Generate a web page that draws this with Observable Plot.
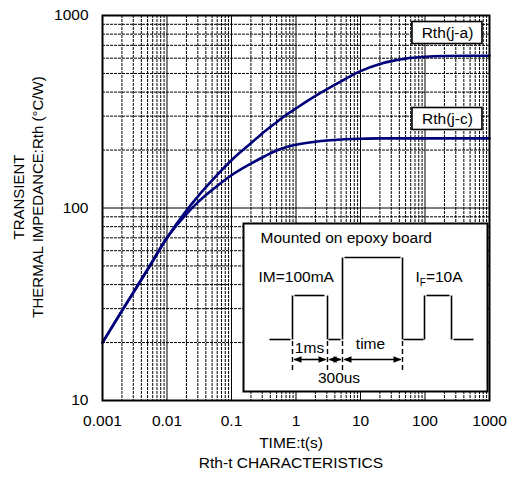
<!DOCTYPE html>
<html>
<head>
<meta charset="utf-8">
<script src="https://cdn.jsdelivr.net/npm/d3@7"></script>
<script src="https://cdn.jsdelivr.net/npm/@observablehq/plot@0.6"></script>
<style>
  html, body { margin: 0; padding: 0; background: #fff; }
  #wrap { position: relative; width: 509px; height: 477px; }
  #inset { position: absolute; left: 242px; top: 222px; }
</style>
</head>
<body>
<div id="wrap"><div id="main"></div><div id="inset"></div></div>
<script>
// ---- data ----
const xTicks = [0.001, 0.01, 0.1, 1, 10, 100, 1000];
const yTicks = [10, 100, 1000];
const time  = [0.001, 0.002, 0.005, 0.01, 0.02, 0.03, 0.05, 0.1, 0.2, 0.3, 0.5, 0.7, 1, 2, 5, 10, 20, 50, 100, 200, 500, 1000];
const rthJA = [20, 29.2, 47.9, 70, 97, 114.6, 139, 177, 217, 244, 279, 304, 329, 382, 455, 514, 560, 597, 610, 616, 618, 618];
const rthJC = [20, 29.2, 47.9, 70, 93, 107, 124, 148, 170, 183, 199, 207, 213, 221, 227, 229, 230, 230, 230, 230, 230, 230];
const seriesNames = ["Rth(j-a)", "Rth(j-c)"];
const labelT = [223, 223];
const labelR = [811, 290];

// inset schematic (units of the inset box)
const waveSeg = [[27,117,48,117],[50,73,50,117],[52,73,82,73],[85,73,85,117],[86,117,98,117],
  [100,35,100,117],[102,35,158,35],[160,35,160,117],[161,117,181,117],
  [182,73,182,117],[184,73,207,73],[209,73,209,117],[211,117,231,117]];
const dashX = [50, 85, 100, 160];
const arrowSeg = [[52,83],[87,98],[102,158]];
const headX = [51, 84, 86, 99, 101, 159];
const headDir = [180, 0, 180, 0, 180, 0];
const insetTexts = ["Mounted on epoxy board", "IM=100mA", "IF=10A", "1ms", "time", "300us"];
const insetTX = [18, 16, 173, 67, 128, 96.5];
const insetTY = [15.5, 55, 55, 126, 122, 156];
const insetAnchor = ["start", "start", "start", "middle", "middle", "middle"];

// ---- derived ----
const xMinor = [];
for (const d of xTicks.slice(0, -1)) for (let k = 2; k <= 9; k++) xMinor.push(+(d * k).toPrecision(3));
const yMinor = [];
for (const d of yTicks.slice(0, -1)) for (let k = 2; k <= 9; k++) yMinor.push(d * k);
const curves = time.flatMap((t, i) => [
  {t, r: rthJA[i], s: seriesNames[0]},
  {t, r: rthJC[i], s: seriesNames[1]}
]);
const labels = seriesNames.map((name, i) => ({name, t: labelT[i], r: labelR[i]}));

const font = "'Liberation Sans', Arial, Helvetica, sans-serif";
const navy = "#00007a";

const main = Plot.plot({
  width: 509, height: 477,
  marginLeft: 102, marginRight: 20, marginTop: 15, marginBottom: 77,
  style: {fontFamily: font, fontSize: "15.5px", background: "white", color: "black"},
  x: {type: "log", domain: [0.001, 1000], ticks: xTicks, tickSize: 0, tickPadding: 14, tickFormat: d => String(d), label: null},
  y: {type: "log", domain: [10, 1000], ticks: yTicks, tickSize: 0, tickPadding: 14, tickFormat: d => String(d), label: null},
  marks: [
    Plot.ruleX(xMinor, {stroke: "#000", strokeWidth: 1, strokeDasharray: "3,1"}),
    Plot.ruleY(yMinor, {stroke: "#000", strokeWidth: 1, strokeDasharray: "3,1"}),
    Plot.ruleX(xTicks, {stroke: "black", strokeWidth: 1}),
    Plot.ruleY(yTicks, {stroke: "black", strokeWidth: 1}),
    Plot.line(curves, {x: "t", y: "r", z: "s", curve: "monotone-x", stroke: navy, strokeWidth: 2.6}),
    Plot.frame({stroke: "black", strokeWidth: 2}),
    Plot.rect(labels, {x1: "t", x2: "t", y1: "r", y2: "r", insetLeft: -35, insetRight: -35, insetTop: -11, insetBottom: -11, fill: "white", stroke: "black", strokeWidth: 1.6}),
    Plot.text(labels, {x: "t", y: "r", text: "name", fontSize: 15.5, fill: "black"}),
    Plot.text(["TRANSIENT"], {text: d => d, frameAnchor: "left", textAnchor: "middle", rotate: -90, dx: -83, dy: -11, fontSize: 15, fill: "black"}),
    Plot.text(["THERMAL IMPEDANCE:Rth (°C/W)"], {text: d => d, frameAnchor: "left", textAnchor: "middle", rotate: -90, dx: -64, dy: -11, fontSize: 15, fill: "black"}),
    Plot.text(["TIME:t(s)"], {text: d => d, frameAnchor: "bottom", textAnchor: "middle", dx: -5, dy: 47, fontSize: 15.5, fill: "black"}),
    Plot.text(["Rth-t CHARACTERISTICS"], {text: d => d, frameAnchor: "bottom", textAnchor: "middle", dx: -5, dy: 67, fontSize: 15.5, fill: "black"})
  ]
});
document.getElementById("main").appendChild(main);

const headSymbol = {
  draw(ctx) { ctx.moveTo(0, 0); ctx.lineTo(-8, -3.2); ctx.lineTo(-8, 3.2); ctx.closePath(); }
};
const heads = headX.map((x, i) => ({x, y: 137, r: headDir[i]}));
const insetLabels = insetTexts.map((text, i) => ({text, x: insetTX[i], y: insetTY[i], a: insetAnchor[i]}));

const inset = Plot.plot({
  width: 246, height: 170,
  marginLeft: 0, marginRight: 0, marginTop: 0, marginBottom: 0,
  style: {fontFamily: font, fontSize: "15.5px", background: "transparent", color: "black", overflow: "visible"},
  x: {domain: [0, 246], range: [0, 246], axis: null},
  y: {domain: [0, 170], range: [0, 170], axis: null},
  marks: [
    Plot.frame({fill: "white", stroke: "black", strokeWidth: 2, inset: 1}),
    Plot.link(waveSeg, {x1: d => d[0], y1: d => d[1], x2: d => d[2], y2: d => d[3], stroke: "black", strokeWidth: 1.6}),
    Plot.ruleX(dashX, {y1: 119, y2: 150, stroke: "black", strokeWidth: 1.4, strokeDasharray: "5,3"}),
    Plot.link(arrowSeg, {x1: d => d[0], x2: d => d[1], y1: 137, y2: 137, stroke: "black", strokeWidth: 1.6}),
    Plot.dot(heads, {x: "x", y: "y", rotate: "r", symbol: headSymbol, r: 4, fill: "black", stroke: "none"}),
    Plot.text(insetLabels.filter(d => d.a === "start"), {x: "x", y: "y", text: "text", textAnchor: "start", fontSize: 15.5, fill: "black"}),
    Plot.text(insetLabels.filter(d => d.a === "middle"), {x: "x", y: "y", text: "text", textAnchor: "middle", fontSize: 15.5, fill: "black"})
  ]
});
document.getElementById("inset").appendChild(inset);

// subscript F in IF=10A
d3.select(inset).selectAll("text").filter(function() { return this.textContent === "IF=10A"; })
  .each(function() {
    const t = d3.select(this);
    t.text(null);
    t.append("tspan").text("I");
    t.append("tspan").attr("dy", 4).attr("font-size", 10).text("F");
    t.append("tspan").attr("dy", -4).text("=10A");
  });
</script>
</body>
</html>
